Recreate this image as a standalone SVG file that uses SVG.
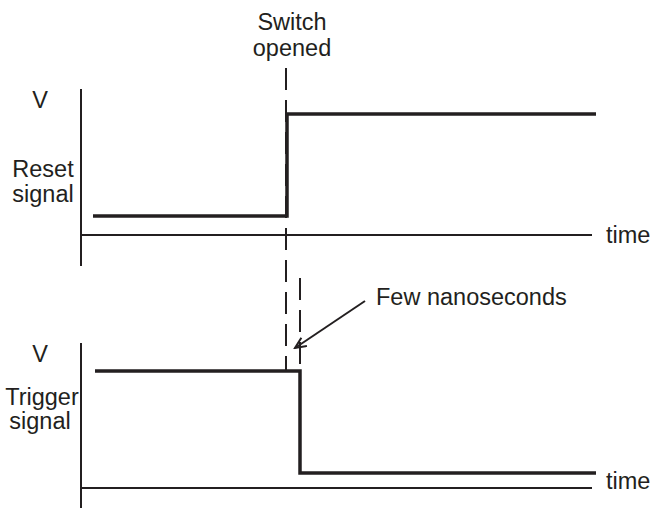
<svg xmlns="http://www.w3.org/2000/svg" width="652" height="517" viewBox="0 0 652 517">
<style>
text{font-family:"Liberation Sans",Arial,sans-serif;font-size:23.5px;fill:#231f20}
.ax{stroke:#231f20;stroke-width:2;fill:none}
.sig{stroke:#231f20;stroke-width:3.5;fill:none}
.dash{stroke:#231f20;stroke-width:2;fill:none;stroke-dasharray:22 10}
</style>
<defs>
<marker id="ah" markerWidth="14" markerHeight="12" refX="12" refY="6" orient="auto" markerUnits="userSpaceOnUse">
<path d="M1,1 L12,6 L1,11" fill="none" stroke="#231f20" stroke-width="2"/>
</marker>
</defs>
<rect width="652" height="517" fill="#fff"/>
<g id="reset-axes">
<line class="ax" x1="81" y1="89" x2="81" y2="266"/>
<line class="ax" x1="81" y1="235" x2="592" y2="235"/>
<text x="40" y="108" text-anchor="middle">V</text>
<text x="43" y="177" text-anchor="middle">Reset</text>
<text x="43" y="202" text-anchor="middle">signal</text>
<text x="606" y="243">time</text>
</g>
<g id="reset-signal">
<polyline class="sig" points="93,216 287,216 287,114 596,114"/>
</g>
<g id="trigger-axes">
<line class="ax" x1="81" y1="343" x2="81" y2="508"/>
<line class="ax" x1="81" y1="488" x2="592" y2="488"/>
<text x="40" y="362" text-anchor="middle">V</text>
<text x="42" y="405" text-anchor="middle">Trigger</text>
<text x="40" y="429" text-anchor="middle">signal</text>
<text x="606" y="489">time</text>
</g>
<g id="trigger-signal">
<polyline class="sig" points="95,371 300,371 300,473 596,473"/>
</g>
<g id="switch-label">
<text x="292" y="30" text-anchor="middle">Switch</text>
<text x="292" y="56" text-anchor="middle">opened</text>
</g>
<g id="few-label">
<text x="376" y="305">Few nanoseconds</text>
</g>
<g id="connectors">
<line class="dash" x1="286" y1="68" x2="286" y2="371"/>
<line class="dash" x1="300" y1="278" x2="300" y2="371"/>
<line class="ax" x1="365" y1="301" x2="295" y2="348" marker-end="url(#ah)"/>
</g>
</svg>
